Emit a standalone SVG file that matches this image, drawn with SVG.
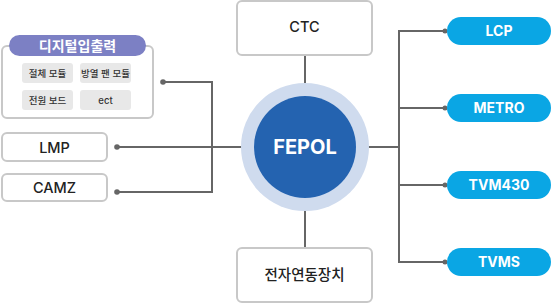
<svg xmlns="http://www.w3.org/2000/svg" width="552" height="304" viewBox="0 0 552 304">
<style>
.box{fill:#fff;stroke:#c8c8c8;stroke-width:2}
.cell{fill:#e8e8e8}
.ct{font-family:Inter,"Noto Sans CJK KR",sans-serif;font-size:9.5px;font-weight:500;fill:#333;text-anchor:middle}
.bt{font-family:Inter,"Noto Sans CJK KR",sans-serif;font-size:14.5px;font-weight:500;fill:#222;text-anchor:middle}
.pill{fill:#0aa6e4}
.pt{font-family:Inter,"Liberation Sans",sans-serif;font-size:14px;font-weight:bold;fill:#fff;text-anchor:middle}
.ln{stroke:#666;stroke-width:2;fill:none}
.dot{fill:#666}
</style>
<g id="connectors">
<path class="ln" d="M305 56V247"/>
<path class="ln" d="M117 147H305"/>
<path class="ln" d="M163 82H212V192H117"/>
<path class="ln" d="M305 147H399"/>
<path class="ln" d="M445 31H399V262H445"/>
<path class="ln" d="M399 108H445M399 185H445"/>
<circle class="dot" cx="163" cy="82" r="2.8"/>
<circle class="dot" cx="117" cy="147" r="2.8"/>
<circle class="dot" cx="117" cy="192" r="2.8"/>
<circle class="dot" cx="445" cy="31" r="2.5"/>
<circle class="dot" cx="445" cy="108" r="2.5"/>
<circle class="dot" cx="445" cy="185" r="2.5"/>
<circle class="dot" cx="445" cy="262" r="2.5"/>
</g>
<g id="digital-io">
<rect class="box" x="2" y="46" width="151" height="72" rx="5"/>
<rect x="9" y="35" width="137" height="21" rx="10.5" fill="#7c80c4"/>
<text x="77.5" y="50.5" font-family="Noto Sans CJK KR,sans-serif" font-size="14" font-weight="bold" fill="#fff" text-anchor="middle">디지털입출력</text>
<rect class="cell" x="22" y="63" width="51" height="20" rx="3"/>
<rect class="cell" x="80" y="63" width="51" height="20" rx="3"/>
<rect class="cell" x="22" y="90" width="51" height="20" rx="3"/>
<rect class="cell" x="80" y="90" width="51" height="20" rx="3"/>
<text class="ct" x="47.5" y="76.5">절체 모듈</text>
<text class="ct" x="105.5" y="76.5">방열 팬 모듈</text>
<text class="ct" x="47.5" y="103.5">전원 보드</text>
<text class="ct" x="105.5" y="103.5">ect</text>
</g>
<g id="lmp">
<rect class="box" x="2" y="133" width="105" height="28" rx="5"/>
<text class="bt" x="54.5" y="152.5">LMP</text>
</g>
<g id="camz">
<rect class="box" x="2" y="174" width="105" height="27" rx="5"/>
<text class="bt" x="54.5" y="193">CAMZ</text>
</g>
<g id="ctc">
<rect class="box" x="237" y="1" width="135" height="54" rx="5"/>
<text class="bt" x="304.5" y="32">CTC</text>
</g>
<g id="interlock">
<rect class="box" x="237" y="248" width="135" height="54" rx="5"/>
<text class="bt" x="304.5" y="280">전자연동장치</text>
</g>
<g id="fepol">
<circle cx="305" cy="147" r="64" fill="#cfdbee"/>
<circle cx="305" cy="147" r="51" fill="#2463b0"/>
<text x="305" y="154" font-family="Inter,Liberation Sans,sans-serif" font-size="20" font-weight="bold" fill="#fff" text-anchor="middle">FEPOL</text>
</g>
<g id="lcp">
<rect class="pill" x="447" y="17" width="104" height="28" rx="14"/>
<text class="pt" x="499" y="36">LCP</text>
</g>
<g id="metro">
<rect class="pill" x="447" y="94" width="104" height="28" rx="14"/>
<text class="pt" x="499" y="113">METRO</text>
</g>
<g id="tvm430">
<rect class="pill" x="447" y="171" width="104" height="28" rx="14"/>
<text class="pt" x="499" y="190">TVM430</text>
</g>
<g id="tvms">
<rect class="pill" x="447" y="248" width="104" height="28" rx="14"/>
<text class="pt" x="499" y="267">TVMS</text>
</g>
</svg>
